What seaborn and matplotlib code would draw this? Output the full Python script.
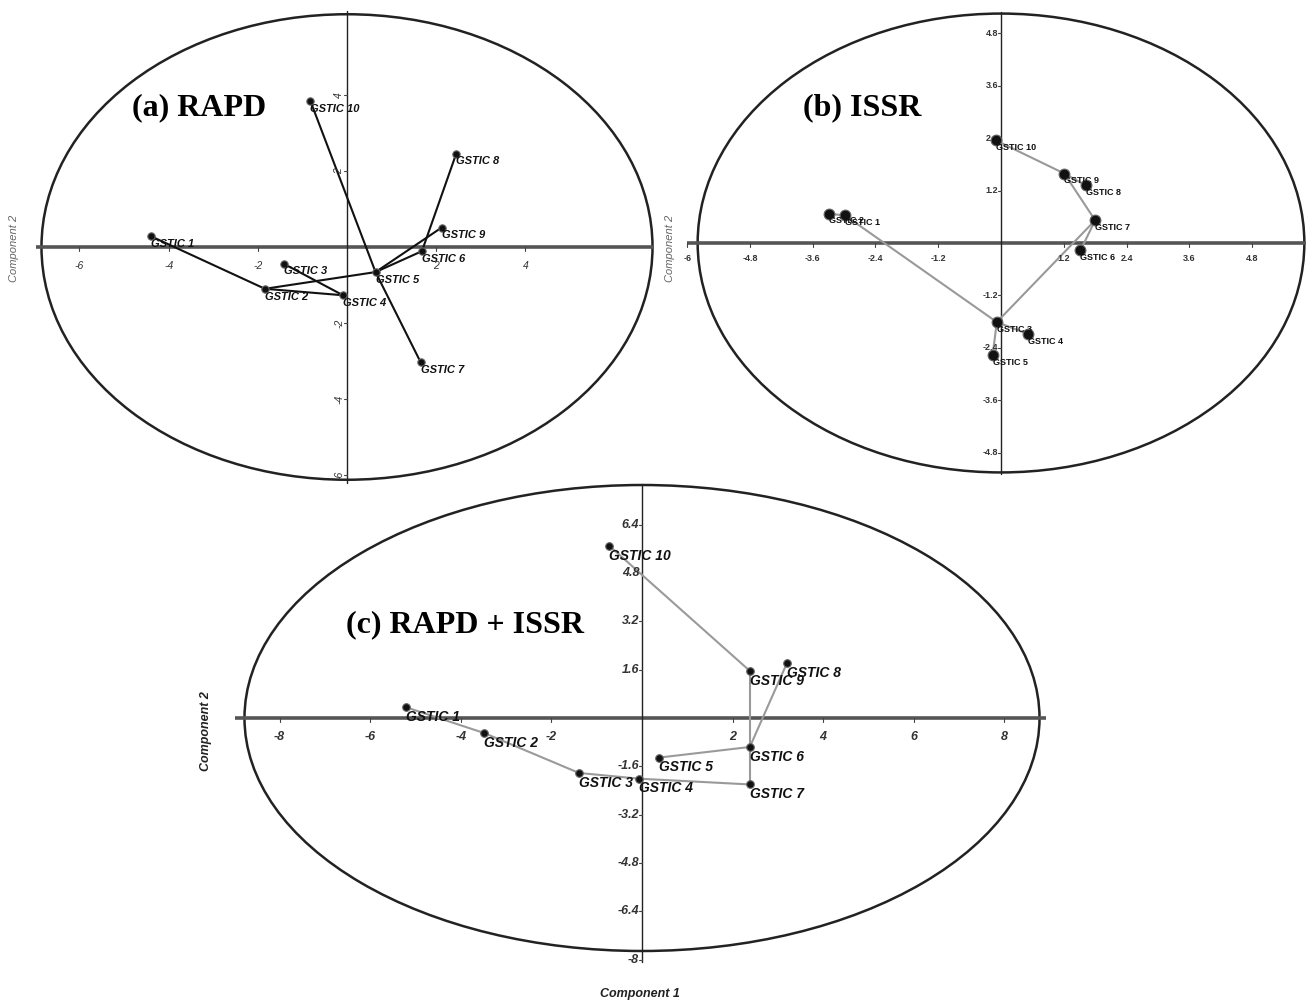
import numpy as np
import pandas as pd
import matplotlib
matplotlib.use('Agg')
import matplotlib.pyplot as plt
from matplotlib.patches import Ellipse
import seaborn as sns

# genotype labels and PCA scores
genotypes = ['GSTIC 1', 'GSTIC 2', 'GSTIC 3', 'GSTIC 4', 'GSTIC 5',
             'GSTIC 6', 'GSTIC 7', 'GSTIC 8', 'GSTIC 9', 'GSTIC 10']

rapd_pc1 = [-4.39, -1.84, -1.42, -0.09, 0.64, 1.68, 1.65, 2.45, 2.12, -0.82]
rapd_pc2 = [0.28, -1.10, -0.44, -1.27, -0.66, -0.11, -3.03, 2.46, 0.51, 3.84]
rapd_edges = [(1, 2), (2, 4), (2, 5), (3, 4), (5, 6), (5, 9), (6, 8), (10, 5), (5, 7)]

issr_pc1 = [-2.98, -3.29, -0.08, 0.51, -0.16, 1.52, 1.80, 1.62, 1.21, -0.10]
issr_pc2 = [0.63, 0.67, -1.81, -2.08, -2.57, -0.17, 0.52, 1.32, 1.59, 2.35]
issr_edges = [(2, 1), (1, 3), (3, 7), (7, 6), (9, 7), (9, 8), (9, 10), (3, 4), (3, 5)]

combined_pc1 = [-5.22, -3.48, -1.39, -0.06, 0.38, 2.38, 2.38, 3.20, 2.38, -0.72]
combined_pc2 = [0.36, -0.50, -1.82, -2.01, -1.31, -0.96, -2.20, 1.82, 1.56, 5.70]
combined_edges = [(1, 2), (2, 3), (3, 4), (4, 7), (7, 6), (6, 5), (6, 9), (6, 8), (9, 10)]

rapd_xticks = [-6, -4, -2, 2, 4]
rapd_yticks = [4, 2, -2, -4, -6]
issr_xticks = [-6, -4.8, -3.6, -2.4, -1.2, 1.2, 2.4, 3.6, 4.8]
issr_yticks = [4.8, 3.6, 2.4, 1.2, -1.2, -2.4, -3.6, -4.8]
combined_xticks = [-8, -6, -4, -2, 2, 4, 6, 8]
combined_yticks = [6.4, 4.8, 3.2, 1.6, -1.6, -3.2, -4.8, -6.4, -8]

W, H = 1307, 1007
sns.set_theme(style='white')
plt.rcParams['font.family'] = ['Liberation Sans', 'DejaVu Sans']

fig = plt.figure(figsize=(W / 100, H / 100), dpi=100)


def add_panel(box, center, scale):
    # box / center in image pixels, scale in pixels per unit
    x0, x1, y0, y1 = box
    cx, cy = center
    sx, sy = scale
    ax = fig.add_axes([x0 / W, 1 - y1 / H, (x1 - x0) / W, (y1 - y0) / H])
    ax.set_xlim((x0 - cx) / sx, (x1 - cx) / sx)
    ax.set_ylim((cy - y1) / sy, (cy - y0) / sy)
    ax.set_axis_off()
    ax.patch.set_alpha(0)
    return ax


def draw_panel(ax, scale, pc1, pc2, edges, xticks, yticks, xspan, yspan, ell,
               line_color, marker_size, label_font, tick_font, ytick_rot=0,
               hline_w=2.6, x_lab_off=14):
    sx, sy = scale
    df = pd.DataFrame({'genotype': genotypes, 'pc1': pc1, 'pc2': pc2})

    ax.add_patch(Ellipse((0, 0), ell[0], ell[1], fill=False, ec='#222222', lw=1.8, zorder=1))
    ax.plot(xspan, [0, 0], color='#555555', lw=hline_w, zorder=1, solid_capstyle='butt')
    ax.plot([0, 0], yspan, color='#222222', lw=1.0, zorder=1)

    for t in xticks:
        ax.plot([t, t], [0, -4 / sy], color='#444444', lw=0.8)
        ax.annotate(f'{t:g}', (t, 0), xytext=(0, -x_lab_off), textcoords='offset points',
                    ha='center', va='center', color='#333333', **tick_font)
    for t in yticks:
        ax.plot([0, -3 / sx], [t, t], color='#444444', lw=0.8)
        ax.annotate(f'{t:g}', (0, t), xytext=(-2, 0), textcoords='offset points',
                    ha='right', va='center', rotation=ytick_rot, color='#333333', **tick_font)

    for a, b in edges:
        ax.plot([pc1[a - 1], pc1[b - 1]], [pc2[a - 1], pc2[b - 1]],
                color=line_color, lw=1.5, zorder=2)

    sns.scatterplot(data=df, x='pc1', y='pc2', ax=ax, s=marker_size, color='#111111',
                    edgecolor='#666666', linewidth=0.8, zorder=3, legend=False)
    ax.set_axis_off()

    for _, row in df.iterrows():
        ax.annotate(row.genotype, (row.pc1, row.pc2), xytext=(0, -2), textcoords='offset points',
                    ha='left', va='top', color='#111111', zorder=4, **label_font)


# (a) RAPD
scale_a = (44.6, 38.0)
ax_a = add_panel((0, 662, 0, 492), (347, 247), scale_a)
draw_panel(ax_a, scale_a, rapd_pc1, rapd_pc2, rapd_edges, rapd_xticks, rapd_yticks,
           xspan=[-6.98, 6.89], yspan=[6.2, -6.2], ell=(13.7, 12.25),
           line_color='#111111', marker_size=28,
           label_font=dict(fontsize=8, style='italic', weight='bold'),
           tick_font=dict(fontsize=7.5, style='italic'), ytick_rot=90)

# (b) ISSR
scale_b = (52.3, 43.7)
ax_b = add_panel((664, 1307, 0, 482), (1001, 243), scale_b)
draw_panel(ax_b, scale_b, issr_pc1, issr_pc2, issr_edges, issr_xticks, issr_yticks,
           xspan=[-6.0, 5.84], yspan=[5.29, -5.28], ell=(11.6, 10.5),
           line_color='#999999', marker_size=60,
           label_font=dict(fontsize=6.5, weight='bold'),
           tick_font=dict(fontsize=6.5, weight='bold'), x_lab_off=11)

# (c) RAPD + ISSR
scale_c = (45.3, 30.2)
ax_c = add_panel((190, 1062, 478, 1007), (642, 718), scale_c)
draw_panel(ax_c, scale_c, combined_pc1, combined_pc2, combined_edges, combined_xticks, combined_yticks,
           xspan=[-8.99, 8.92], yspan=[7.76, -8.08], ell=(17.55, 15.43),
           line_color='#9a9a9a', marker_size=30,
           label_font=dict(fontsize=10, style='italic', weight='bold'),
           tick_font=dict(fontsize=9, style='italic', weight='bold'))

title_font = dict(family='Liberation Serif', weight='bold', fontsize=23, color='black',
                  ha='center', va='center')
fig.text(199 / W, 1 - 108 / H, '(a) RAPD', **title_font)
fig.text(862 / W, 1 - 108 / H, '(b) ISSR', **title_font)
fig.text(465 / W, 1 - 625 / H, '(c) RAPD + ISSR', **title_font)

fig.text(14 / W, 1 - 248 / H, 'Component 2', rotation=90, ha='center', va='center',
         fontsize=8, style='italic', color='#666666')
fig.text(670 / W, 1 - 248 / H, 'Component 2', rotation=90, ha='center', va='center',
         fontsize=8, style='italic', color='#666666')
fig.text(206 / W, 1 - 731 / H, 'Component 2', rotation=90, ha='center', va='center',
         fontsize=9, style='italic', weight='bold', color='#222222')
fig.text(640 / W, 1 - 994 / H, 'Component 1', ha='center', va='center',
         fontsize=9, style='italic', weight='bold', color='#222222')

fig.savefig('out.png', dpi=100, facecolor='white')
